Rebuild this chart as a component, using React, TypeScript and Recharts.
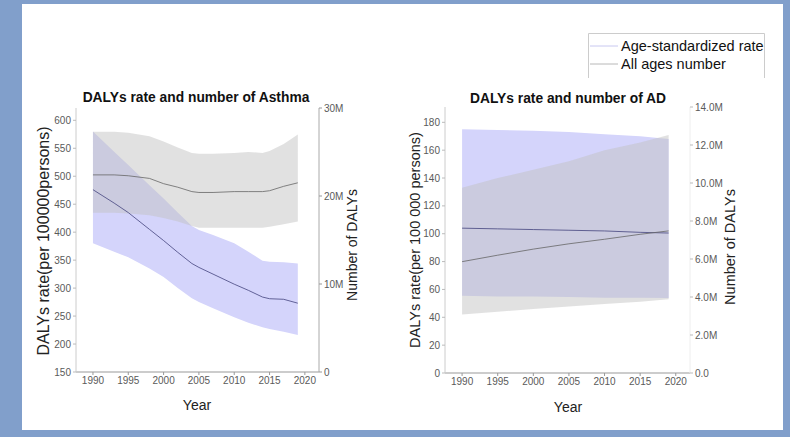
import React from "react";
import { ComposedChart, Area, Line, XAxis, YAxis } from "recharts";

// ---------- Asthma ----------
const asthmaYears = [1990, 1993, 1995, 1998, 2000, 2002, 2004, 2005, 2007, 2010, 2012, 2014, 2015, 2017, 2019];
const asthmaRate = [476, 452, 435, 405, 385, 364, 344, 337, 325, 307, 296, 284, 281, 280, 273];
const asthmaRateLow = [380, 365, 355, 335, 320, 300, 282, 275, 264, 248, 238, 230, 227, 222, 216];
const asthmaRateHigh = [580, 544, 520, 484, 460, 435, 411, 404, 395, 380, 365, 349, 347, 346, 344];
const asthmaNum = [22.4, 22.4, 22.3, 22.0, 21.4, 21.0, 20.5, 20.4, 20.4, 20.5, 20.5, 20.5, 20.6, 21.1, 21.5];
const asthmaNumLow = [18.1, 18.1, 18.0, 17.8, 17.5, 17.1, 16.6, 16.4, 16.4, 16.4, 16.4, 16.4, 16.5, 16.8, 17.1];
const asthmaNumHigh = [27.3, 27.3, 27.2, 26.8, 26.2, 25.5, 24.9, 24.8, 24.8, 24.9, 25.0, 24.9, 25.1, 25.9, 27.0];

// ---------- AD ----------
const adYears = [1990, 1995, 2000, 2005, 2010, 2015, 2019];
const adRate = [104, 103.5, 103, 102.5, 102, 101, 100.5];
const adRateLow = [55.5, 55, 55, 54.5, 54, 54, 53.8];
const adRateHigh = [175, 174.5, 174, 173, 171.5, 170, 168];
const adNum = [5.86, 6.2, 6.52, 6.8, 7.04, 7.3, 7.48];
const adNumLow = [3.08, 3.22, 3.37, 3.5, 3.63, 3.75, 3.88];
const adNumHigh = [9.75, 10.26, 10.7, 11.14, 11.73, 12.13, 12.53];

// ---------- ticks ----------
const xTicks = [1990, 1995, 2000, 2005, 2010, 2015, 2020];
const asthmaLeftTicks = [150, 200, 250, 300, 350, 400, 450, 500, 550, 600];
const asthmaRightTicks = [0, 10, 20, 30];
const adLeftTicks = [0, 20, 40, 60, 80, 100, 120, 140, 160, 180];
const adRightTicks = [0, 2, 4, 6, 8, 10, 12, 14];

const FONT = "'Liberation Sans', Arial, sans-serif";
const BLUE_FILL = "#d4d4fb";
const GRAY_FILL = "#c2c2c2";
const GRAY_OPACITY = 0.49;
const BLUE_LINE = "#44447e";
const GRAY_LINE = "#666666";

const asthmaData = asthmaYears.map((y, i) => ({
  year: y,
  rate: asthmaRate[i],
  rateRange: [asthmaRateLow[i], asthmaRateHigh[i]],
  num: asthmaNum[i],
  numRange: [asthmaNumLow[i], asthmaNumHigh[i]],
}));

const adData = adYears.map((y, i) => ({
  year: y,
  rate: adRate[i],
  rateRange: [adRateLow[i], adRateHigh[i]],
  num: adNum[i],
  numRange: [adNumLow[i], adNumHigh[i]],
}));

const tickStyle = { fontSize: 10, fill: "#5a5a5a", fontFamily: FONT };

export default function App() {
  return (
    <div
      style={{
        position: "absolute",
        left: 0,
        top: 0,
        width: 790,
        height: 437,
        background: "#819fcb",
        overflow: "hidden",
        fontFamily: FONT,
      }}
    >
      <div style={{ position: "absolute", left: 22, top: 4, width: 761, height: 426, background: "#fff" }} />

      {/* Asthma chart */}
      <div style={{ position: "absolute", left: 0, top: 0 }}>
        <ComposedChart width={400} height={437} data={asthmaData} margin={{ top: 108, right: 21, bottom: 35, left: 31 }}>
          <XAxis
            dataKey="year"
            type="number"
            domain={[1987.6, 2022]}
            ticks={xTicks}
            allowDataOverflow
            tick={tickStyle}
            tickSize={3}
            tickLine={{ stroke: "#999" }}
            axisLine={{ stroke: "#999" }}
            height={30}
          />
          <YAxis
            yAxisId="left"
            domain={[150, 622]}
            ticks={asthmaLeftTicks}
            allowDataOverflow
            tick={tickStyle}
            tickSize={3}
            tickLine={{ stroke: "#bbb" }}
            axisLine={{ stroke: "#ccc" }}
            width={45}
          />
          <YAxis
            yAxisId="right"
            orientation="right"
            domain={[0, 30]}
            ticks={asthmaRightTicks}
            allowDataOverflow
            tickFormatter={(v: number) => (v === 0 ? "0" : `${v}M`)}
            tick={tickStyle}
            tickSize={3}
            tickLine={{ stroke: "#999" }}
            axisLine={{ stroke: "#aaa" }}
            width={60}
          />
          <Area yAxisId="left" dataKey="rateRange" type="linear" fill={BLUE_FILL} fillOpacity={1} stroke="none" isAnimationActive={false} />
          <Area yAxisId="right" dataKey="numRange" type="linear" fill={GRAY_FILL} fillOpacity={GRAY_OPACITY} stroke="none" isAnimationActive={false} />
          <Line yAxisId="left" dataKey="rate" type="linear" stroke={BLUE_LINE} strokeWidth={0.8} dot={false} isAnimationActive={false} />
          <Line yAxisId="right" dataKey="num" type="linear" stroke={GRAY_LINE} strokeWidth={0.8} dot={false} isAnimationActive={false} />
        </ComposedChart>
      </div>

      {/* AD chart */}
      <div style={{ position: "absolute", left: 400, top: 0 }}>
        <ComposedChart width={390} height={437} data={adData} margin={{ top: 107, right: 40, bottom: 34, left: 10 }}>
          <XAxis
            dataKey="year"
            type="number"
            domain={[1987.6, 2022]}
            ticks={xTicks}
            allowDataOverflow
            tick={tickStyle}
            tickSize={3}
            tickLine={{ stroke: "#999" }}
            axisLine={{ stroke: "#999" }}
            height={30}
          />
          <YAxis
            yAxisId="left"
            domain={[0, 191]}
            ticks={adLeftTicks}
            allowDataOverflow
            tick={tickStyle}
            tickSize={3}
            tickLine={{ stroke: "#bbb" }}
            axisLine={{ stroke: "#ccc" }}
            width={35}
          />
          <YAxis
            yAxisId="right"
            orientation="right"
            domain={[0, 14]}
            ticks={adRightTicks}
            allowDataOverflow
            tickFormatter={(v: number) => (v === 0 ? "0.0" : `${v.toFixed(1)}M`)}
            tick={tickStyle}
            tickSize={3}
            tickLine={{ stroke: "#bbb" }}
            axisLine={{ stroke: "#eee" }}
            width={60}
          />
          <Area yAxisId="left" dataKey="rateRange" type="linear" fill={BLUE_FILL} fillOpacity={1} stroke="none" isAnimationActive={false} />
          <Area yAxisId="right" dataKey="numRange" type="linear" fill={GRAY_FILL} fillOpacity={GRAY_OPACITY} stroke="none" isAnimationActive={false} />
          <Line yAxisId="left" dataKey="rate" type="linear" stroke={BLUE_LINE} strokeWidth={0.8} dot={false} isAnimationActive={false} />
          <Line yAxisId="right" dataKey="num" type="linear" stroke={GRAY_LINE} strokeWidth={0.8} dot={false} isAnimationActive={false} />
        </ComposedChart>
      </div>

      {/* Titles, axis labels, legend */}
      <svg width={790} height={437} style={{ position: "absolute", left: 0, top: 0, pointerEvents: "none" }}>
        <g fontFamily={FONT}>
          <text x={196} y={97} textAnchor="middle" dominantBaseline="central" fontSize={13.8} fontWeight="bold" fill="#111">
            DALYs rate and number of Asthma
          </text>
          <text x={568} y={98} textAnchor="middle" dominantBaseline="central" fontSize={13.8} fontWeight="bold" fill="#111">
            DALYs rate and number of AD
          </text>
          <text transform="translate(43,241) rotate(-90)" textAnchor="middle" dominantBaseline="central" fontSize={16} fill="#222">
            DALYs rate(per 100000persons)
          </text>
          <text transform="translate(415,240) rotate(-90)" textAnchor="middle" dominantBaseline="central" fontSize={14.5} fill="#222">
            DALYs rate(per 100 000 persons)
          </text>
          <text transform="translate(352,245) rotate(-90)" textAnchor="middle" dominantBaseline="central" fontSize={14} fill="#222">
            Number of DALYs
          </text>
          <text transform="translate(730,247) rotate(-90)" textAnchor="middle" dominantBaseline="central" fontSize={14.5} fill="#222">
            Number of DALYs
          </text>
          <text x={197} y={405} textAnchor="middle" dominantBaseline="central" fontSize={14} fill="#222">
            Year
          </text>
          <text x={568} y={407} textAnchor="middle" dominantBaseline="central" fontSize={14} fill="#222">
            Year
          </text>

          {/* legend */}
          <path d="M588.5,78 L588.5,33.5 L764.5,33.5 L764.5,78" fill="none" stroke="#ccc" strokeWidth={1} />
          <line x1={590} x2={618} y1={46} y2={46} stroke="#c8c8f0" strokeWidth={1} />
          <line x1={590} x2={618} y1={64} y2={64} stroke="#b8b8b8" strokeWidth={1} />
          <text x={621} y={46} dominantBaseline="central" fontSize={14.5} fill="#111">
            Age-standardized rate
          </text>
          <text x={621} y={64} dominantBaseline="central" fontSize={14.5} fill="#111">
            All ages number
          </text>
        </g>
      </svg>
    </div>
  );
}
